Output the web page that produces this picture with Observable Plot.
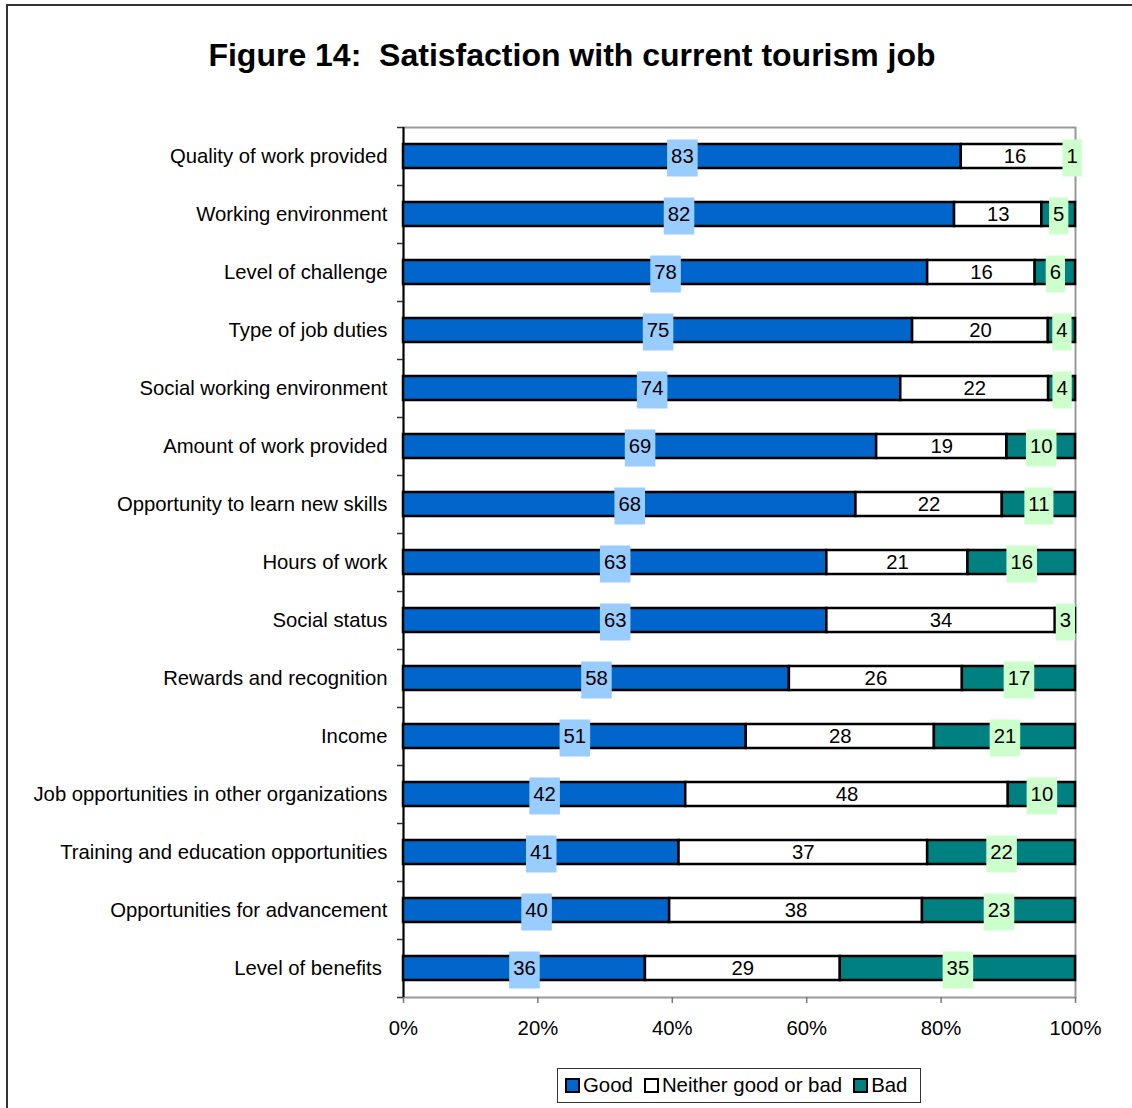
<!DOCTYPE html>
<html>
<head>
<meta charset="utf-8">
<script src="https://cdn.jsdelivr.net/npm/d3@7"></script>
<script src="https://cdn.jsdelivr.net/npm/@observablehq/plot@0.6"></script>
<style>
  html, body { margin: 0; padding: 0; background: #fff; }
  body { position: relative; width: 1132px; height: 1108px; overflow: hidden; font-family: "Liberation Sans", Arial, sans-serif; }
  #frame { position: absolute; left: 6px; top: 4px; width: 1200px; height: 1200px; border: 2px solid #333; box-sizing: border-box; pointer-events: none; }
  #title { height: 40px; line-height: 40px; padding-top: 35px; padding-bottom: 25px; padding-left: 12px; text-align: center; font-weight: bold; font-size: 32px; white-space: pre; color: #000; }
  #chart svg { display: block; }
  #legend { display: flex; align-items: center; margin-left: 557px; margin-top: 18px; width: 364px; height: 35px; box-sizing: border-box; border: 1px solid #333; padding-left: 7px; font-size: 20.4px; color: #000; }
  .item { display: flex; align-items: center; margin-right: 11px; }
  .sw { width: 11px; height: 11px; border: 2px solid #000; margin-right: 3px; }
</style>
</head>
<body>
<div id="frame"></div>
<div id="title">Figure 14:  Satisfaction with current tourism job</div>
<div id="chart"></div>
<div id="legend"></div>
<script>
const categories = [
  "Quality of work provided",
  "Working environment",
  "Level of challenge",
  "Type of job duties",
  "Social working environment",
  "Amount of work provided",
  "Opportunity to learn new skills",
  "Hours of work",
  "Social status",
  "Rewards and recognition",
  "Income",
  "Job opportunities in other organizations",
  "Training and education opportunities",
  "Opportunities for advancement",
  "Level of benefits\u00a0"
];
const good    = [83, 82, 78, 75, 74, 69, 68, 63, 63, 58, 51, 42, 41, 40, 36];
const neither = [16, 13, 16, 20, 22, 19, 22, 21, 34, 26, 28, 48, 37, 38, 29];
const bad     = [ 1,  5,  6,  4,  4, 10, 11, 16,  3, 17, 21, 10, 22, 23, 35];
const seriesNames = ["Good", "Neither good or bad", "Bad"];
const seriesColors = ["#0066CC", "#FFFFFF", "#008080"];
const labelBoxColors = ["#99CCFF", null, "#CCFFCC"];
const xTicks = [0, 20, 40, 60, 80, 100];
const gridTicks = [20, 40, 60, 80];

const seriesValues = [good, neither, bad];
const rows = categories.flatMap((c, i) =>
  seriesNames.map((s, k) => ({category: c, series: s, value: seriesValues[k][i]}))
);

const stackOpts = {x: "value", y: "category", z: "series", offset: "normalize"};
const step = 58;

const chart = Plot.plot({
  width: 1132,
  height: 950,
  marginTop: 27,
  marginBottom: 53,
  marginLeft: 403,
  marginRight: 57,
  style: {fontFamily: "'Liberation Sans', Arial, sans-serif", fontSize: "20px", color: "#000", background: "transparent"},
  x: {domain: [0, 100], percent: true},
  y: {domain: categories, paddingInner: 0.59, paddingOuter: 0.295},
  color: {domain: seriesNames, range: seriesColors},
  marks: [
    Plot.gridX(gridTicks, {stroke: "#222", strokeOpacity: 1, strokeWidth: 1}),
    Plot.frame({stroke: "#999", strokeWidth: 2}),
    Plot.ruleX([0], {stroke: "#000", strokeWidth: 2}),
    Plot.ruleY(categories, {y: d => d, x1: 0, x2: 0, insetLeft: -6, dy: step / 2, stroke: "#333", strokeWidth: 1.5}),
    Plot.ruleY(categories.slice(0, 1), {y: d => d, x1: 0, x2: 0, insetLeft: -6, dy: -step / 2, stroke: "#333", strokeWidth: 1.5}),
    Plot.axisX({ticks: xTicks, tickFormat: d => d + "%", tickSize: 6, tickPadding: 17, fontSize: 20.3, stroke: "#777", strokeWidth: 1.5, label: null}),
    Plot.axisY({tickSize: 0, tickPadding: 16, fontSize: 20.3, label: null}),
    Plot.barX(rows, Plot.stackX({...stackOpts, fill: "series", stroke: "#000", strokeWidth: 2.5})),
    Plot.text(rows, Plot.stackX({...stackOpts, text: d => String(d.value), fill: "#000", fontSize: 20.3}))
  ]
});
document.getElementById("chart").appendChild(chart);

// label background boxes (Good and Bad labels only; Neither labels sit on white)
const svgns = "http://www.w3.org/2000/svg";
const textGroups = chart.querySelectorAll('g[aria-label="text"]');
const labelGroup = textGroups[textGroups.length - 1];
if (labelGroup) {
  labelGroup.querySelectorAll("text").forEach((t, j) => {
    const row = rows[j];
    const k = seriesNames.indexOf(row.series);
    if (!labelBoxColors[k]) return;
    const bb = t.getBBox();
    const r = document.createElementNS(svgns, "rect");
    const cy = bb.y + bb.height / 2 + 2;
    r.setAttribute("x", bb.x - 4);
    r.setAttribute("y", cy - 18.5);
    r.setAttribute("width", bb.width + 8);
    r.setAttribute("height", 37);
    r.setAttribute("fill", labelBoxColors[k]);
    const tr = t.getAttribute("transform");
    if (tr) r.setAttribute("transform", tr);
    t.parentNode.insertBefore(r, t);
  });
}

// legend
const legend = document.getElementById("legend");
seriesNames.forEach((s, k) => {
  const item = document.createElement("div");
  item.className = "item";
  const sw = document.createElement("div");
  sw.className = "sw";
  sw.style.background = seriesColors[k];
  const tx = document.createElement("span");
  tx.textContent = s;
  item.appendChild(sw);
  item.appendChild(tx);
  legend.appendChild(item);
});
</script>
</body>
</html>
